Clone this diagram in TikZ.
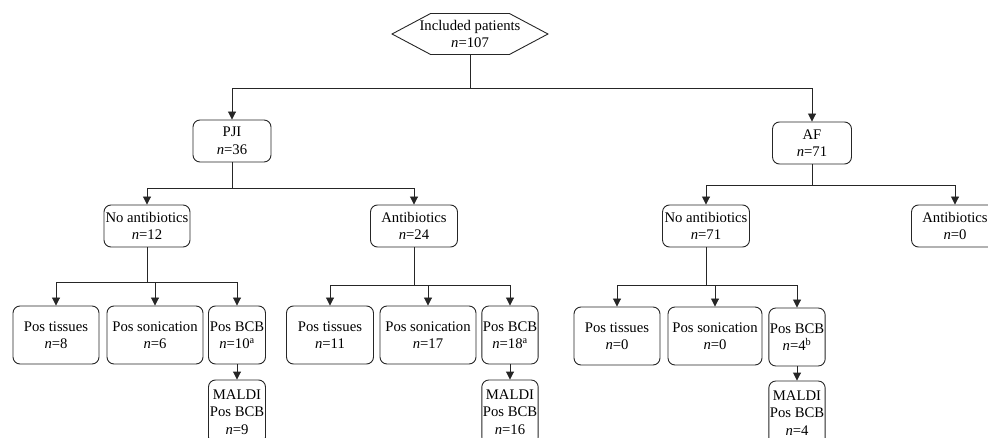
\documentclass[tikz,border=0pt]{standalone}
\usepackage{fontspec}
\setmainfont{Liberation Serif}
\usetikzlibrary{arrows.meta,shapes.symbols,positioning}

\tikzset{
  box/.style={draw=black!85, rounded corners=7pt, align=center, inner sep=1pt,
              minimum height=42pt},
  leaf/.style={box, minimum height=58pt},
  hexa/.style={draw=black!85, shape=signal, signal to=west and east,
               signal pointer angle=56, align=center, inner xsep=-11pt,
               inner ysep=1pt, minimum height=41pt},
}

\begin{document}
\begin{tikzpicture}
      [x=1pt, y=-1pt, line width=0.9pt, draw=black!85,
       >={Triangle[width=8pt,length=8pt]},
       font=\fontsize{14.7}{17.5}\selectfont]
      \useasboundingbox (0,0) rectangle (988,438);

      % top
      \node [hexa] (incl) at (470,34) {Included patients\\\textit{n}=107};
      \node [box, minimum width=78pt] (pji) at (232,141) {PJI\\\textit{n}=36};
      \node [box, minimum width=79pt] (af)  at (812,143) {AF\\\textit{n}=71};

      % antibiotics
      \node [box, minimum width=86pt] (pjino) at (147,226) {No antibiotics\\\textit{n}=12};
      \node [box, minimum width=87pt] (pjiab) at (414,226) {Antibiotics\\\textit{n}=24};
      \node [box, minimum width=87pt] (afno)  at (706,226) {No antibiotics\\\textit{n}=71};
      \node [box, minimum width=87pt] (afab)  at (955,226) {Antibiotics\\\textit{n}=0};

      % results
      \node [leaf, minimum width=86pt] (pjinotis) at (56,335)  {Pos tissues\\\textit{n}=8};
      \node [leaf, minimum width=96pt] (pjinoson) at (155,335) {Pos sonication\\\textit{n}=6};
      \node [leaf, minimum width=57pt] (pjinobcb) at (237,335) {Pos BCB\\\textit{n}=10\textsuperscript{a}};
      \node [leaf, minimum width=87pt] (pjiabtis) at (330,335) {Pos tissues\\\textit{n}=11};
      \node [leaf, minimum width=96pt] (pjiabson) at (428,335) {Pos sonication\\\textit{n}=17};
      \node [leaf, minimum width=56pt] (pjiabbcb) at (510,335) {Pos BCB\\\textit{n}=18\textsuperscript{a}};
      \node [leaf, minimum width=86pt] (afnotis)  at (617,336) {Pos tissues\\\textit{n}=0};
      \node [leaf, minimum width=94pt] (afnoson)  at (715,336) {Pos sonication\\\textit{n}=0};
      \node [leaf, minimum width=56pt] (afnobcb)  at (797,337) {Pos BCB\\\textit{n}=4\textsuperscript{b}};

      % maldi
      \node [box, minimum width=57pt, minimum height=64pt] (pjinomaldi) at (237,412) {MALDI\\Pos BCB\\\textit{n}=9};
      \node [box, minimum width=56pt, minimum height=64pt] (pjiabmaldi) at (510,412) {MALDI\\Pos BCB\\\textit{n}=16};
      \node [box, minimum width=56pt, minimum height=64pt] (afnomaldi)  at (797,413) {MALDI\\Pos BCB\\\textit{n}=4};

      \coordinate (topbus)   at (470,88);
      \coordinate (pjibus)   at (232,188);
      \coordinate (afbus)    at (812,185);
      \coordinate (pjinobus) at (147,282);
      \coordinate (pjiabbus) at (414,285);
      \coordinate (afnobus)  at (706,285);

      \draw (incl.south) to (topbus);
      \draw [->] (topbus) -| (pji.north);
      \draw [->] (topbus) -| (af.north);

      \draw (pji.south) to (pjibus);
      \draw [->] (pjibus) -| (pjino.north);
      \draw [->] (pjibus) -| (pjiab.north);
      \draw (af.south) to (afbus);
      \draw [->] (afbus) -| (afno.north);
      \draw [->] (afbus) -| (afab.north);

      \draw (pjino.south) to (pjinobus);
      \draw [->] (pjinobus) -| (pjinotis.north);
      \draw [->] (pjinobus) -| (pjinoson.north);
      \draw [->] (pjinobus) -| (pjinobcb.north);
      \draw (pjiab.south) to (pjiabbus);
      \draw [->] (pjiabbus) -| (pjiabtis.north);
      \draw [->] (pjiabbus) -| (pjiabson.north);
      \draw [->] (pjiabbus) -| (pjiabbcb.north);
      \draw (afno.south) to (afnobus);
      \draw [->] (afnobus) -| (afnotis.north);
      \draw [->] (afnobus) -| (afnoson.north);
      \draw [->] (afnobus) -| (afnobcb.north);

      \draw [->] (pjinobcb) to (pjinomaldi);
      \draw [->] (pjiabbcb) to (pjiabmaldi);
      \draw [->] (afnobcb)  to (afnomaldi);
    \end{tikzpicture}
\end{document}
